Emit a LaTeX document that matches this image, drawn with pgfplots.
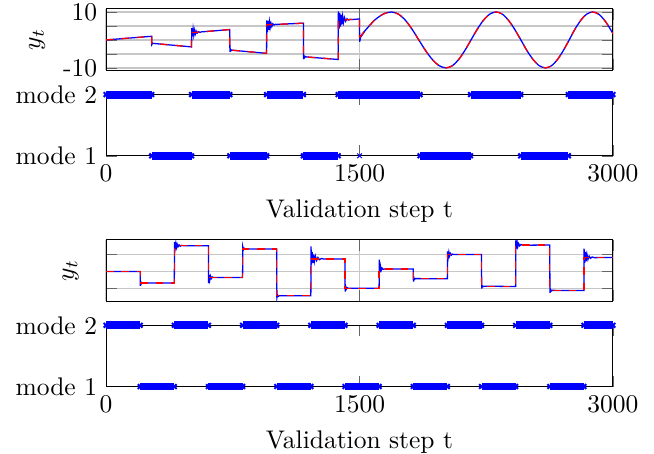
\documentclass[border=0pt]{standalone}
\usepackage{pgfplots}
\usepackage{pgfplotstable}
\pgfplotsset{compat=1.18}
\pgfplotstableread{
t v
1500 0.8
1530 3.1
1560 5.2
1590 7.1
1620 8.5
1650 9.5
1690 10
1730 9.24
1771 7.07
1811 3.83
1851 0
1891 -3.83
1932 -7.07
1972 -9.24
2012 -10
2049 -9.24
2086 -7.07
2123 -3.83
2160 0
2197 3.83
2234 7.07
2271 9.24
2308 10
2345 9.24
2381 7.07
2418 3.83
2455 0
2491 -3.83
2528 -7.07
2564 -9.24
2601 -10
2636 -9.24
2671 -7.07
2706 -3.83
2741 0
2775 3.83
2810 7.07
2845 9.24
2880 10
2915 9.24
2950 7.07
2985 3.83
3000 2.2
}\sinepart
\begin{document}
\begin{tikzpicture}
\useasboundingbox (0,0) rectangle (256.5pt,178pt);
\pgfplotsset{
  base/.style={scale only axis, width=198.8pt, height=24pt, xmin=0, xmax=3000, anchor=south west,
    xtick={0,1500,3000}, major tick style={black!60}},
  ypanel/.style={base, xticklabels={}, xmajorgrids, ymajorgrids, grid style={black!22, line width=0.5pt}},
  mpanel/.style={base, ymin=1, ymax=2, ytick={1,2}, yticklabels={mode 1, mode 2},
    xticklabels={0,1500,3000}, xlabel={Validation step t}, clip=false},
  truth/.style={red, dashed, line width=0.5pt},
  est/.style={blue, line width=0.5pt},
  band/.style={blue, line width=3.1pt, mark=x, mark size=1.3pt, mark options={line width=0.8pt, solid}, unbounded coords=jump},
}
% ---------- panel 1: y_t ----------
\begin{axis}[ypanel, at={(41.6pt,150.5pt)}, ymin=-10.8, ymax=11.1, ytick={-10,-5,0,5,10},
  yticklabels={-10,,,,10}, ylabel={$y_t$}, ylabel style={at={(axis description cs:-0.136,0.5)}, anchor=center}]
\addplot[est] coordinates {(0,0) (270,1.3) (271,-1.6) (275,-1.1) (280,-1.25) (506,-2.5) (507,4.2) (511,1.3) (515,3.9) (519,1.7) (523,3.5) (528,2.1) (533,3.2) (539,2.4) (546,3.0) (555,2.7) (565,2.88) (732,3.7) (733,-4.3) (736,-3.3) (740,-3.85) (745,-3.62) (750,-3.7) (950,-4.8) (951,7.0) (955,2.8) (959,6.8) (963,3.6) (967,6.4) (971,4.3) (976,6.0) (981,4.8) (987,5.8) (994,5.3) (1002,5.6) (1010,5.55) (1168,6.0) (1169,-6.9) (1172,-5.7) (1176,-6.3) (1181,-5.95) (1186,-6.09) (1374,-7.0) (1375,10.2) (1379,4.0) (1383,9.6) (1387,4.8) (1391,9.0) (1395,5.5) (1400,8.5) (1405,6.2) (1411,8.0) (1418,6.7) (1426,7.6) (1435,7.1) (1445,7.4) (1458,7.28) (1470,7.38) (1500,7.5) (1501,-0.7) (1506,0.9) (1530,3.1)};
\addplot[est, smooth] table {\sinepart};
\addplot[truth] coordinates {(0,0) (270,1.3) (270,-1.2) (506,-2.5) (506,2.6) (732,3.7) (732,-3.6) (950,-4.8) (950,5.4) (1168,6.0) (1168,-6.0) (1374,-7.0) (1374,7.0) (1500,7.5) (1500,0.8)};
\addplot[truth, smooth] table {\sinepart};
\end{axis}
% ---------- panel 1: modes ----------
\begin{axis}[mpanel, at={(41.6pt,116.9pt)}]
\addplot[band] coordinates {(0,2) (270,2) (nan,nan) (506,2) (732,2) (nan,nan) (950,2) (1168,2) (nan,nan) (1374,2) (1858,2) (nan,nan) (2157,2) (2454,2) (nan,nan) (2736,2) (3000,2)};
\addplot[band] coordinates {(270,1) (506,1) (nan,nan) (732,1) (950,1) (nan,nan) (1168,1) (1374,1) (nan,nan) (1858,1) (2157,1) (nan,nan) (2454,1) (2736,1)};
\addplot[blue, only marks, mark=x, mark size=1.3pt, line width=0.4pt] coordinates {(1500,1)};
\end{axis}
% ---------- panel 2: y_t ----------
\begin{axis}[ypanel, at={(41.6pt,59.9pt)}, ymin=-1.74, ymax=1.85, ytick={-1,0,1},
  yticklabels={}, ylabel={$y_t$}, ylabel style={at={(axis description cs:-0.070,0.5)}, anchor=center}]
\addplot[est] coordinates {(0,0) (202,0) (203,-0.84) (206,-0.62) (210,-0.72) (215,-0.67) (404,-0.68) (405,1.72) (409,1.35) (413,1.66) (417,1.41) (421,1.6) (426,1.45) (432,1.56) (439,1.48) (447,1.53) (460,1.51) (606,1.51) (607,-0.68) (610,-0.2) (614,-0.5) (618,-0.27) (623,-0.42) (629,-0.32) (636,-0.36) (808,-0.35) (809,1.45) (813,1.27) (818,1.36) (824,1.31) (1010,1.32) (1011,-1.56) (1015,-1.38) (1020,-1.46) (1026,-1.42) (1212,-1.43) (1213,1.47) (1216,0.4) (1220,1.15) (1224,0.5) (1228,1.0) (1233,0.58) (1239,0.9) (1246,0.64) (1254,0.82) (1263,0.69) (1274,0.76) (1290,0.73) (1414,0.73) (1415,-1.18) (1418,-0.88) (1422,-1.04) (1427,-0.95) (1433,-0.99) (1616,-0.98) (1617,0.69) (1620,-0.05) (1624,0.3) (1628,0.06) (1633,0.2) (1640,0.12) (1648,0.15) (1818,0.14) (1819,-0.6) (1822,-0.36) (1826,-0.47) (1831,-0.42) (2020,-0.43) (2021,1.18) (2025,0.82) (2029,1.12) (2033,0.9) (2038,1.06) (2044,0.96) (2051,1.02) (2060,0.99) (2222,1.0) (2223,-1.0) (2226,-0.84) (2230,-0.9) (2235,-0.87) (2424,-0.88) (2425,1.82) (2429,1.35) (2433,1.72) (2437,1.45) (2442,1.64) (2448,1.5) (2455,1.58) (2464,1.54) (2626,1.55) (2627,-1.26) (2630,-1.05) (2634,-1.16) (2639,-1.11) (2828,-1.12) (2829,1.34) (2833,0.5) (2837,1.15) (2841,0.6) (2846,1.0) (2852,0.7) (2859,0.9) (2867,0.77) (2877,0.85) (2890,0.81) (3000,0.82)};
\addplot[truth] coordinates {(0,0) (202,0) (202,-0.68) (404,-0.68) (404,1.51) (606,1.51) (606,-0.35) (808,-0.35) (808,1.32) (1010,1.32) (1010,-1.43) (1212,-1.43) (1212,0.73) (1414,0.73) (1414,-0.98) (1616,-0.98) (1616,0.14) (1818,0.14) (1818,-0.43) (2020,-0.43) (2020,1.0) (2222,1.0) (2222,-0.88) (2424,-0.88) (2424,1.55) (2626,1.55) (2626,-1.12) (2828,-1.12) (2828,0.82) (3000,0.82)};
\end{axis}
% ---------- panel 2: modes ----------
\begin{axis}[mpanel, at={(41.6pt,26.4pt)}]
\addplot[band] coordinates {(0,2) (202,2) (nan,nan) (404,2) (606,2) (nan,nan) (808,2) (1010,2) (nan,nan) (1212,2) (1414,2) (nan,nan) (1616,2) (1818,2) (nan,nan) (2020,2) (2222,2) (nan,nan) (2424,2) (2626,2) (nan,nan) (2828,2) (3000,2)};
\addplot[band] coordinates {(202,1) (404,1) (nan,nan) (606,1) (808,1) (nan,nan) (1010,1) (1212,1) (nan,nan) (1414,1) (1616,1) (nan,nan) (1818,1) (2020,1) (nan,nan) (2222,1) (2424,1) (nan,nan) (2626,1) (2828,1)};
\end{axis}
\end{tikzpicture}
\end{document}
